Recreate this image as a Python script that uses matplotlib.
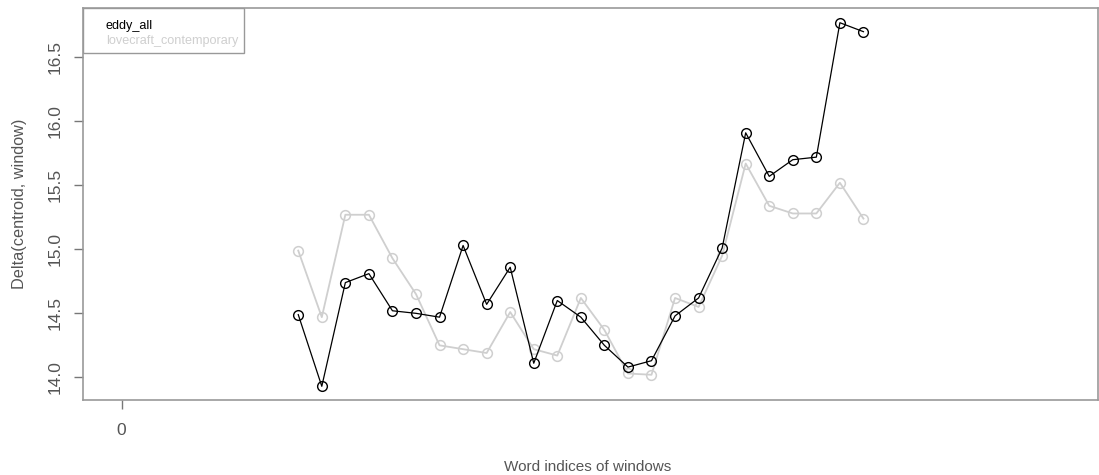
import numpy as np
import matplotlib.pyplot as plt
from matplotlib.patches import Rectangle

plt.rcParams['font.family'] = ['Liberation Sans', 'DejaVu Sans']

# window start indices (in thousands of words)
windows = [7.5, 8.5, 9.5, 10.5, 11.5, 12.5, 13.5, 14.5, 15.5, 16.5, 17.5, 18.5, 19.5,
           20.5, 21.5, 22.5, 23.5, 24.5, 25.5, 26.5, 27.5, 28.5, 29.5, 30.5, 31.5]
eddy_all = [14.49, 13.93, 14.74, 14.81, 14.52, 14.50, 14.47, 15.03, 14.57, 14.86, 14.11, 14.60, 14.47,
            14.25, 14.08, 14.13, 14.48, 14.62, 15.01, 15.91, 15.57, 15.70, 15.72, 16.77, 16.70]
lovecraft_contemporary = [14.99, 14.47, 15.27, 15.27, 14.93, 14.65, 14.25, 14.22, 14.19, 14.51, 14.22, 14.17, 14.62,
                          14.37, 14.03, 14.02, 14.62, 14.55, 14.95, 15.67, 15.34, 15.28, 15.28, 15.52, 15.24]
series_names = ['eddy_all', 'lovecraft_contemporary']
series_colors = ['black', '#cfcfcf']

W, H = 1099, 475
fig = plt.figure(figsize=(W / 100, H / 100), dpi=100)
ax = fig.add_axes([83 / W, 75 / H, 1015 / W, 392 / H])

ax.plot(windows, lovecraft_contemporary, '-o', color=series_colors[1], lw=1.3,
        mfc='none', mec=series_colors[1], ms=7, mew=1.1)
ax.plot(windows, eddy_all, '-o', color=series_colors[0], lw=0.9,
        mfc='none', mec=series_colors[0], ms=7, mew=1.0)

ax.set_xlim(-1.64, 41.46)
ax.set_ylim(13.823, 16.885)
ax.set_xticks([0])
ax.set_yticks([14.0, 14.5, 15.0, 15.5, 16.0, 16.5])
ax.set_yticklabels(['14.0', '14.5', '15.0', '15.5', '16.0', '16.5'], rotation=90, va='center')
ax.tick_params(colors='#777777', labelcolor='#555555', length=6.5, width=1, labelsize=12.5, pad=8)
ax.tick_params(axis='x', pad=10)
for s in ax.spines.values():
    s.set_color('#999999')
    s.set_linewidth(1.2)

ax.set_xlabel('Word indices of windows', color='#555555', fontsize=11)
ax.set_ylabel('Delta(centroid, window)', color='#555555', fontsize=11.7)
ax.xaxis.set_label_coords(505 / 1015, -(467 - 400) / 392)
ax.yaxis.set_label_coords(-(83 - 20) / 1015, 0.5)
ax.xaxis.label.set_va('center')
ax.yaxis.label.set_va('center')

# R-style legend: text only, coloured by series, in a plain box at top-left
ax.add_patch(Rectangle((0, 1 - 45 / 392), 161 / 1015, 45 / 392, transform=ax.transAxes,
                       facecolor='white', edgecolor='#999999', lw=1.0, zorder=5))
for i, (name, col) in enumerate(zip(series_names, series_colors)):
    ax.text(23 / 1015, 1 - (18 + 15 * i) / 392, name, color=col, fontsize=9.1,
            transform=ax.transAxes, va='center', ha='left', zorder=6)

fig.savefig('out.png', dpi=100)
